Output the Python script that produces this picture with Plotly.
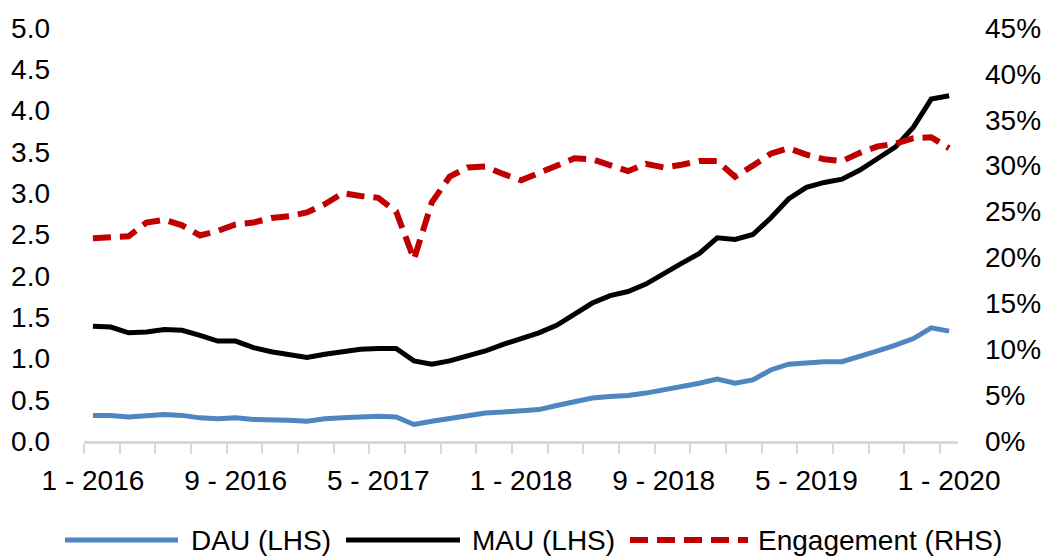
import plotly.graph_objects as go

months = [f"{m} - {y}" for y in range(2016, 2021) for m in range(1, 13)][:49]

dau = [0.31, 0.31, 0.29, 0.31, 0.32, 0.31, 0.28, 0.27, 0.28, 0.26, 0.26, 0.25, 0.24, 0.27, 0.28,
       0.29, 0.30, 0.29, 0.20, 0.24, 0.27, 0.31, 0.34, 0.35, 0.36, 0.38, 0.43, 0.48, 0.52, 0.54,
       0.55, 0.58, 0.62, 0.65, 0.70, 0.75, 0.70, 0.74, 0.86, 0.93, 0.95, 0.96, 0.96, 1.02, 1.09,
       1.16, 1.24, 1.37, 1.33]

mau = [1.39, 1.38, 1.31, 1.32, 1.35, 1.34, 1.28, 1.21, 1.21, 1.13, 1.08, 1.04, 1.01, 1.05, 1.08,
       1.11, 1.12, 1.12, 0.97, 0.93, 0.97, 1.03, 1.09, 1.17, 1.24, 1.31, 1.40, 1.53, 1.67, 1.76,
       1.81, 1.90, 2.03, 2.15, 2.27, 2.46, 2.44, 2.50, 2.70, 2.93, 3.07, 3.13, 3.17, 3.28, 3.42,
       3.56, 3.80, 4.14, 4.18]

engagement = [22.1, 22.2, 22.3, 23.8, 24.1, 23.5, 22.4, 22.9, 23.6, 23.8, 24.3, 24.5, 24.9, 25.8, 27.0,
              26.7, 26.5, 25.0, 19.8, 26.0, 28.8, 29.8, 29.9, 29.1, 28.4, 29.2, 30.0, 30.8, 30.7, 30.0,
              29.4, 30.2, 29.8, 30.1, 30.5, 30.5, 28.8, 30.0, 31.3, 31.9, 31.2, 30.7, 30.5, 31.4, 32.1,
              32.4, 33.0, 33.1, 31.9]

xtick_labels = ["1 - 2016", "9 - 2016", "5 - 2017", "1 - 2018", "9 - 2018", "5 - 2019", "1 - 2020"]
left_ticks = [0.0, 0.5, 1.0, 1.5, 2.0, 2.5, 3.0, 3.5, 4.0, 4.5, 5.0]
right_ticks = [0, 5, 10, 15, 20, 25, 30, 35, 40, 45]
series_names = ["DAU (LHS)", "MAU (LHS)", "Engagement (RHS)"]

BLUE = "#4F86C0"
BLACK = "#000000"
RED = "#C00000"
FONT = "Liberation Sans, Arial, sans-serif"
FS = 28

x = list(range(len(months)))

fig = go.Figure()
fig.add_trace(go.Scatter(x=x, y=dau, mode="lines", name=series_names[0], text=months,
                         line=dict(color=BLUE, width=5), showlegend=False))
fig.add_trace(go.Scatter(x=x, y=mau, mode="lines", name=series_names[1], text=months,
                         line=dict(color=BLACK, width=5), showlegend=False))
fig.add_trace(go.Scatter(x=x, y=engagement, mode="lines", name=series_names[2], text=months,
                         line=dict(color=RED, width=6, dash="18px,9px"), yaxis="y2",
                         showlegend=False))

fig.update_layout(
    width=1051, height=557,
    margin=dict(l=84, r=93, t=28, b=116),
    paper_bgcolor="white", plot_bgcolor="white",
    font=dict(family=FONT, size=FS, color="#000000"),
    xaxis=dict(
        range=[-0.5, 48.5],
        automargin=False,
        tickmode="array",
        tickvals=[months.index(t) for t in xtick_labels],
        ticktext=xtick_labels,
        ticks="",
        showgrid=False, zeroline=False,
        showline=True, linecolor="#D9D9D9", linewidth=3,
        ticklabelstandoff=12,
        minor=dict(tickmode="array", tickvals=[i - 0.5 for i in range(0, 49, 2)],
                   ticks="outside", ticklen=10, tickwidth=2, tickcolor="#D9D9D9",
                   showgrid=False),
    ),
    yaxis=dict(
        range=[0, 5], tickmode="array", tickvals=left_ticks,
        automargin=False,
        ticktext=[f"{v:.1f}" for v in left_ticks],
        showgrid=False, zeroline=False, showline=False, ticks="",
        ticklabelstandoff=33,
    ),
    yaxis2=dict(
        range=[0, 45], overlaying="y", side="right", tickmode="array",
        automargin=False,
        tickvals=right_ticks, ticktext=[f"{v}%" for v in right_ticks],
        showgrid=False, zeroline=False, showline=False, ticks="",
        ticklabelstandoff=26,
    ),
)

# custom legend below the plot
plot_w = 1051 - 84 - 93
plot_h = 557 - 28 - 116
def px_x(p):
    return (p - 84) / plot_w
def px_y(p):
    return (557 - 116 - p) / plot_h

ly = px_y(540)
legend_items = [
    (series_names[0], BLUE, "solid", 5, 65, 178, 189),
    (series_names[1], BLACK, "solid", 5, 346, 460, 470),
    (series_names[2], RED, "18px,9px", 6, 630, 748, 756),
]
for name, color, dash, w, x0, x1, tx in legend_items:
    fig.add_shape(type="line", xref="paper", yref="paper",
                  x0=px_x(x0), x1=px_x(x1), y0=ly, y1=ly,
                  line=dict(color=color, width=w, dash=dash))
    fig.add_annotation(xref="paper", yref="paper", x=px_x(tx), y=ly,
                       xanchor="left", yanchor="middle", text=name, showarrow=False,
                       font=dict(family=FONT, size=FS, color="#000000"))

fig.write_html("out.html", config={"displayModeBar": False},
               post_script="document.body.style.margin='0';document.body.style.padding='0';")
